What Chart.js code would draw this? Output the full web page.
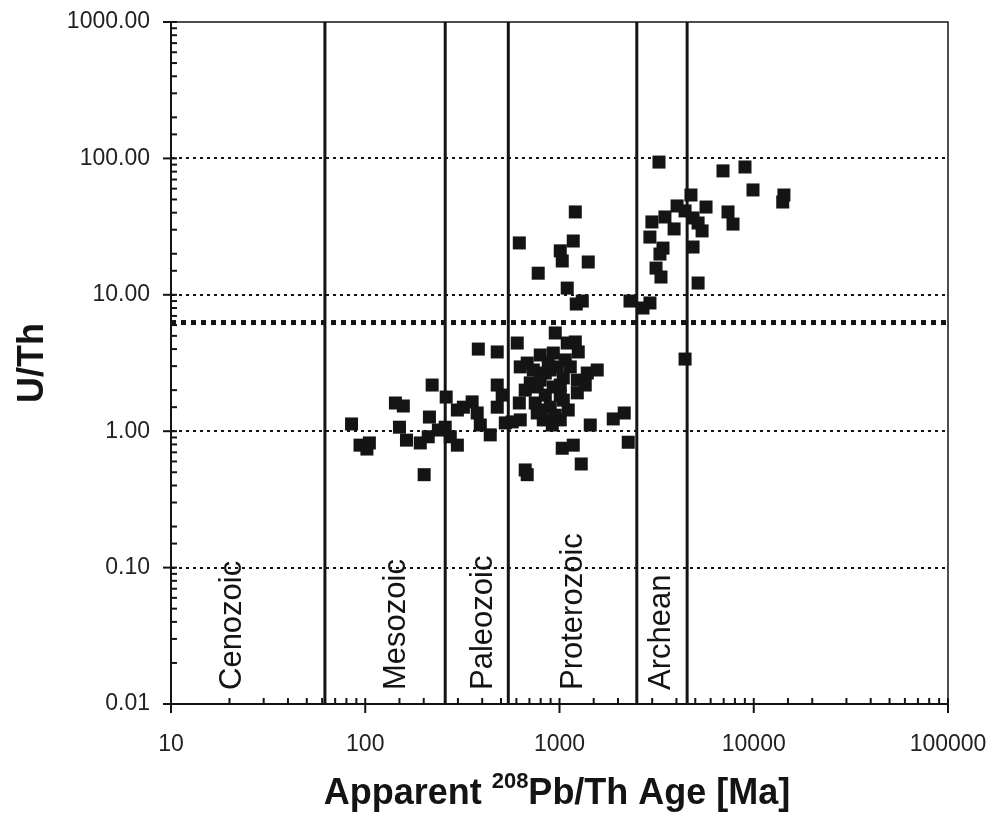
<!DOCTYPE html>
<html>
<head>
<meta charset="utf-8">
<script src="https://cdn.jsdelivr.net/npm/chart.js@4.4.1/dist/chart.umd.min.js"></script>
<style>
  html, body { margin: 0; padding: 0; background: #fff; }
  #wrap { width: 994px; height: 820px; }
</style>
</head>
<body>
<div id="wrap"><canvas id="ageChart" width="994" height="820"></canvas></div>
<script>
// apparent 208Pb/Th age (Ma) and U/Th ratio, one entry per grain
const ages = [
  85, 94, 105, 102, 143, 157, 150, 163, 192, 211, 201, 221, 214, 238, 258, 261, 274, 298,
  298, 320, 355, 377, 391, 440, 382, 478, 478, 507, 478,
  526, 571, 628, 606, 621, 666, 682, 628, 682, 733, 768, 750, 768, 825, 796, 929, 951, 896, 929, 896,
  1009, 1046, 1096, 1206, 1249, 1136, 1235, 1235, 1390, 1564, 1033, 1177, 1294, 1440, 1891, 2154, 2259,
  845, 974, 1046, 845, 796, 951, 918, 707, 1071,
  796, 1009, 666, 1009, 875, 1109, 1357,
  1206, 621, 1177, 1009, 1033, 1406, 777, 1096, 1220, 1310,
  2307, 2690, 2922, 3252, 6945, 9015, 9911, 14300, 14100, 4750, 4030, 4430, 5680, 7370, 7820,
  3490, 2990, 4870, 5170, 5420, 3890, 2920, 3410, 3290, 4870, 3140, 3330, 5170, 4430
];
const ratios = [
  1.13, 0.79, 0.82, 0.74, 1.61, 1.53, 1.07, 0.86, 0.82, 0.91, 0.48, 2.18, 1.27, 1.02, 1.07, 1.78, 0.91, 0.79,
  1.43, 1.50, 1.64, 1.36, 1.11, 0.94, 4.0, 3.81, 2.18, 1.84, 1.50,
  1.15, 1.17, 1.21, 4.43, 1.61, 0.52, 0.48, 2.96, 3.16, 2.81, 2.11, 1.61, 1.36, 1.21, 3.62, 3.74, 5.25, 2.81, 2.11, 1.50,
  1.21, 1.69, 4.43, 4.51, 3.81, 2.96, 2.37, 1.91, 2.67, 2.81, 0.75, 0.79, 0.575, 1.11, 1.23, 1.36, 0.83,
  2.67, 2.96, 2.46, 1.84, 1.43, 1.31, 1.11, 2.26, 3.33,
  2.37, 2.18, 2.0, 1.84, 3.16, 1.43, 2.18,
  40.5, 24.0, 24.8, 21.0, 17.7, 17.4, 14.4, 11.2, 8.56, 9.0,
  9.0, 8.0, 8.71, 94, 81, 86.5, 58.7, 53.9, 47.9, 53.9, 44.8, 41.2, 44.0, 40.5, 33.0,
  37.2, 34.2, 36.6, 33.6, 29.4, 30.4, 26.5, 22.0, 19.9, 22.4, 15.7, 13.5, 12.2, 3.38
];

// era boundaries (Ma) and the U/Th threshold
const boundaryAges = [62, 258, 545, 2500, 4540];
const thresholdRatio = 6.26;

// era names, placed at these ages
const eraNames = ['Cenozoic', 'Mesozoic', 'Paleozoic', 'Proterozoic', 'Archean'];
const eraLabelAges = [20.6, 144, 404, 1174, 3331];

const xRange = [10, 100000];
const yRange = [0.01, 1000];

const FONT = '"Liberation Sans", Arial, Helvetica, sans-serif';
const INK = '#141414';

const isDecade = v => Math.abs(Math.log10(v) - Math.round(Math.log10(v))) < 1e-6;

// keep the plot box where it is even if edge labels overhang
const noOverhang = s => {
  s.paddingLeft = 0; s.paddingRight = 0; s.paddingTop = 0; s.paddingBottom = 0;
};

// frame, tick marks, era names and axis titles
const framePlugin = {
  id: 'frame',
  afterDraw(chart) {
    const { ctx, chartArea: a, scales: { x, y } } = chart;
    ctx.save();
    ctx.strokeStyle = INK;
    ctx.lineWidth = 1.5;
    ctx.beginPath();
    ctx.moveTo(a.left, a.top);
    ctx.lineTo(a.right, a.top);
    ctx.lineTo(a.right, a.bottom);
    ctx.stroke();

    ctx.lineWidth = 2;
    y.ticks.forEach(t => {
      const py = y.getPixelForValue(t.value);
      const major = isDecade(t.value);
      ctx.beginPath();
      ctx.moveTo(a.left - (major ? 8 : 0), py);
      ctx.lineTo(a.left + 6, py);
      ctx.stroke();
    });
    x.ticks.forEach(t => {
      const px = x.getPixelForValue(t.value);
      const major = isDecade(t.value);
      ctx.beginPath();
      ctx.moveTo(px, a.bottom + (major ? 9 : 0));
      ctx.lineTo(px, a.bottom - 6);
      ctx.stroke();
    });

    ctx.fillStyle = INK;
    ctx.font = '31px ' + FONT;
    ctx.textAlign = 'left';
    ctx.textBaseline = 'middle';
    eraNames.forEach((name, i) => {
      const px = x.getPixelForValue(eraLabelAges[i]);
      ctx.save();
      ctx.translate(px, a.bottom - 14);
      ctx.rotate(-Math.PI / 2);
      ctx.fillText(name, 0, 0);
      ctx.restore();
    });

    // y title
    ctx.font = 'bold 36px ' + FONT;
    ctx.textAlign = 'center';
    ctx.save();
    ctx.translate(33, 363);
    ctx.rotate(-Math.PI / 2);
    ctx.fillText('U/Th', 0, 0);
    ctx.restore();

    // x title with superscript mass number
    const big = 'bold 36px ' + FONT, small = 'bold 22px ' + FONT;
    const p1 = 'Apparent ', sup = '208', p2 = 'Pb/Th Age [Ma]';
    ctx.font = big; const w1 = ctx.measureText(p1).width, w3 = ctx.measureText(p2).width;
    ctx.font = small; const w2 = ctx.measureText(sup).width;
    let tx = 557 - (w1 + w2 + w3) / 2;
    const base = 804;
    ctx.textAlign = 'left';
    ctx.textBaseline = 'alphabetic';
    ctx.font = big; ctx.fillText(p1, tx, base); tx += w1;
    ctx.font = small; ctx.fillText(sup, tx, base - 16); tx += w2;
    ctx.font = big; ctx.fillText(p2, tx, base);
    ctx.restore();
  }
};

const grains = ages.map((a, i) => ({ x: a, y: ratios[i] }));

const boundarySets = boundaryAges.map(age => ({
  data: [{ x: age, y: yRange[0] }, { x: age, y: yRange[1] }],
  showLine: true,
  borderColor: INK,
  borderWidth: 3,
  pointRadius: 0
}));

const thresholdSet = {
  data: [{ x: xRange[0], y: thresholdRatio }, { x: xRange[1], y: thresholdRatio }],
  showLine: true,
  borderColor: INK,
  borderWidth: 5,
  borderDash: [5, 5],
  borderCapStyle: 'butt',
  pointRadius: 0
};

new Chart(document.getElementById('ageChart'), {
  type: 'scatter',
  data: {
    datasets: [
      {
        data: grains,
        pointStyle: 'rect',
        pointRadius: 9.2,
        pointHoverRadius: 9.2,
        backgroundColor: INK,
        borderColor: INK,
        borderWidth: 0
      },
      ...boundarySets,
      thresholdSet
    ]
  },
  options: {
    responsive: false,
    animation: false,
    layout: { padding: { top: 22, right: 46, left: 0, bottom: 0 } },
    plugins: { legend: { display: false }, tooltip: { enabled: false } },
    scales: {
      x: {
        type: 'logarithmic',
        min: xRange[0],
        max: xRange[1],
        afterFit: s => { s.height = 116; noOverhang(s); },
        grid: { display: false, drawTicks: false },
        border: { display: true, color: INK, width: 2 },
        ticks: {
          autoSkip: false,
          maxRotation: 0,
          padding: 27,
          color: '#222',
          font: { family: FONT, size: 23 },
          callback: v => isDecade(v) ? String(Math.round(v)) : ''
        }
      },
      y: {
        type: 'logarithmic',
        min: yRange[0],
        max: yRange[1],
        afterFit: s => { s.width = 171; noOverhang(s); },
        grid: {
          drawTicks: false,
          lineWidth: 2,
          color: c => (c.tick && isDecade(c.tick.value) && c.tick.value > 0.011 && c.tick.value < 999) ? INK : 'rgba(0,0,0,0)'
        },
        border: { display: true, color: INK, width: 2, dash: [3, 4] },
        ticks: {
          autoSkip: false,
          padding: 21,
          color: '#222',
          font: { family: FONT, size: 23 },
          callback: v => isDecade(v) ? v.toFixed(2) : ''
        }
      }
    }
  },
  plugins: [framePlugin]
});
</script>
</body>
</html>
